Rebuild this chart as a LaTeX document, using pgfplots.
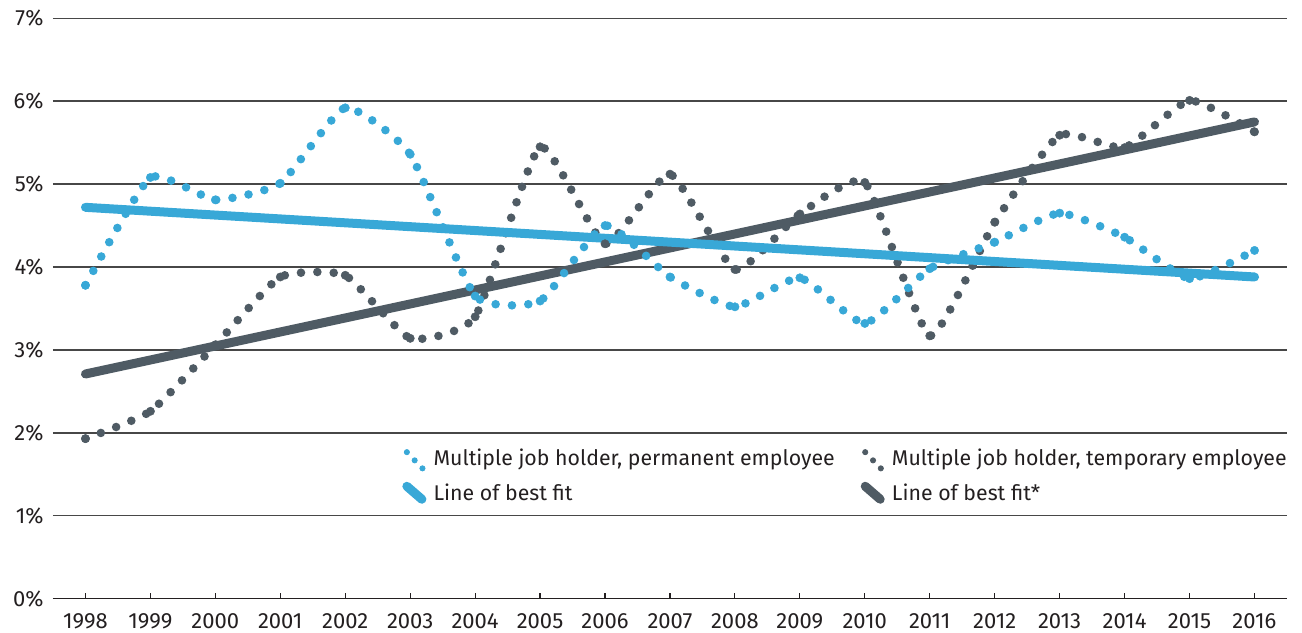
\documentclass[border=0pt]{standalone}
\usepackage{pgfplots}
\pgfplotsset{compat=1.18}
\usepackage{fontspec}
\setmainfont{Fira Sans}
\definecolor{cblue}{HTML}{38A8D7}
\definecolor{cdark}{HTML}{4F5B64}
\definecolor{ctext}{HTML}{231F20}

\pgfplotstableread{
year val
1998 3.78
1999 5.08
2000 4.81
2001 5.01
2002 5.92
2003 5.36
2004 3.65
2005 3.59
2006 4.50
2007 3.88
2008 3.52
2009 3.87
2010 3.32
2011 3.98
2012 4.30
2013 4.65
2014 4.36
2015 3.86
2016 4.20
}\perm

\pgfplotstableread{
year val
1998 1.93
1999 2.26
2000 3.06
2001 3.88
2002 3.90
2003 3.14
2004 3.40
2005 5.45
2006 4.28
2007 5.12
2008 3.97
2009 4.64
2010 5.02
2011 3.17
2012 4.54
2013 5.59
2014 5.44
2015 6.01
2016 5.63
}\temp

\begin{document}
\begin{tikzpicture}
\begin{axis}[
  scale only axis, width=617pt, height=290.2pt,
  xmin=1997.5, xmax=2016.5, ymin=0, ymax=7,
  axis x line*=bottom, axis y line*=left,
  y axis line style={draw=none},
  x axis line style={ctext, line width=0.75pt},
  ytick={0,1,...,7}, ytick style={draw=none},
  ymajorgrids, major grid style={black!72, line width=0.7pt},
  xtick={1998,1999,...,2016}, xtick align=inside, major tick length=3pt,
  xtick style={ctext, line width=0.6pt},
  /pgf/number format/assume math mode=true,
  /pgf/number format/1000 sep={},
  yticklabel={\pgfmathprintnumber{\tick}\%},
  tick label style={font=\fontsize{11}{13}\selectfont, text=ctext},
  xticklabel style={inner ysep=0.5pt, yshift=-6.8pt},
  yticklabel style={xshift=-1.2pt},
  legend columns=2, legend cell align=left,
  legend style={at={(1,0.259)}, anchor=north east, draw=none, fill=none,
    inner sep=0pt, row sep=5.2pt, font=\fontsize{10.65}{12}\selectfont, text=ctext,
    nodes={inner sep=0pt},
    /tikz/every even column/.append style={column sep=13pt},
    /tikz/every odd column/.append style={column sep=3.6pt}},
]
\addlegendimage{legend image code/.code={\fill[cblue] (0pt,3.2pt) circle (1.3pt) (3.9pt,-0.9pt) circle (1.3pt) (7.8pt,-4.9pt) circle (1.3pt);}}
\addlegendentry{Multiple job holder, permanent employee}
\addlegendimage{legend image code/.code={\fill[cdark] (0pt,3.2pt) circle (1.3pt) (3.9pt,-0.9pt) circle (1.3pt) (7.8pt,-4.9pt) circle (1.3pt);}}
\addlegendentry{Multiple job holder, temporary employee}
\addlegendimage{legend image code/.code={\draw[cblue, line width=4.5pt, line cap=round] (0pt,3.8pt) -- (7.5pt,-2.7pt);}}
\addlegendentry{Line of best fit}
\addlegendimage{legend image code/.code={\draw[cdark, line width=4.5pt, line cap=round] (0pt,3.8pt) -- (7.5pt,-2.7pt);}}
\addlegendentry{Line of best fit*}

\addplot[forget plot, cdark, line width=4.5pt, line cap=round] coordinates {(1998,2.71) (2016,5.75)};
\addplot[forget plot, cdark, smooth, tension=0.3, line width=4.3pt, line cap=round, dash pattern=on 0pt off 8.2pt,
  mark=*, mark size=2.1pt, mark options={solid, line width=0.2pt, fill=cdark}] table[x=year,y=val] {\temp};
\addplot[forget plot, cblue, line width=4.5pt, line cap=round] coordinates {(1998,4.72) (2016,3.88)};
\addplot[forget plot, cblue, smooth, tension=0.3, line width=4.3pt, line cap=round, dash pattern=on 0pt off 8.2pt,
  mark=*, mark size=2.1pt, mark options={solid, line width=0.2pt, fill=cblue}] table[x=year,y=val] {\perm};
\end{axis}
\pgfresetboundingbox
\path ([xshift=-26.5pt,yshift=-17.15pt]current axis.south west) rectangle ([xshift=7.5pt,yshift=9.15pt]current axis.north east);
\end{tikzpicture}
\end{document}
